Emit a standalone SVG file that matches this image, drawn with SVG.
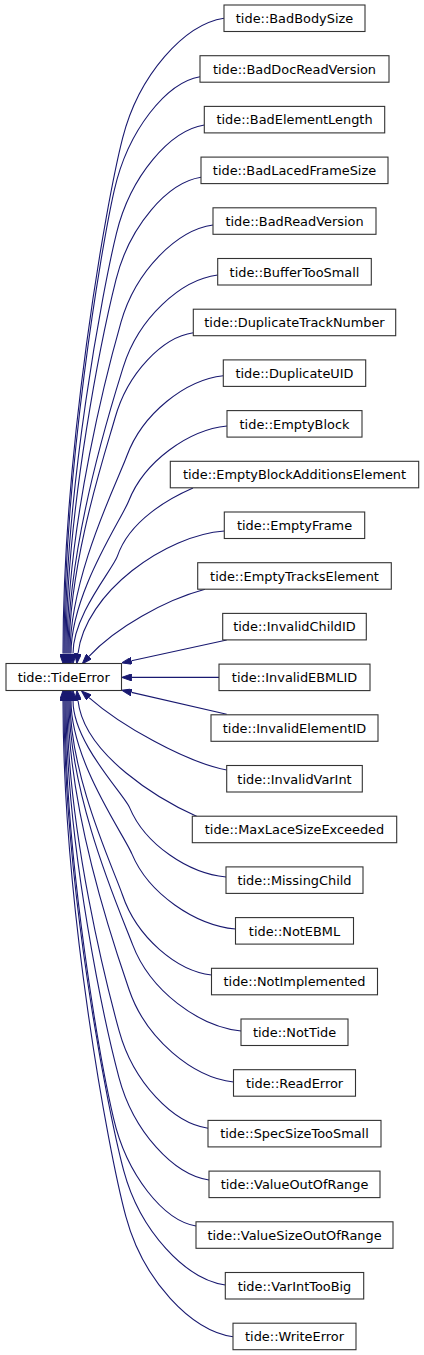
<svg xmlns="http://www.w3.org/2000/svg" width="424" height="1355" viewBox="0 0 424 1355">
<style>
.n rect{fill:#fff;stroke:#333;stroke-width:1.1}
.n text{font-family:"DejaVu Sans",sans-serif;font-size:12.9px;fill:#000;text-anchor:middle}
#edges path{fill:none;stroke:#191970;stroke-width:1.1;marker-end:url(#ah)}
</style>
<defs>
<marker id="ah" viewBox="0 0 10 7" refX="0" refY="3.5" markerWidth="10" markerHeight="7" markerUnits="userSpaceOnUse" orient="auto">
<path d="M0,0 L10,3.5 L0,7 z" fill="#191970" stroke="#191970" stroke-width="1"/>
</marker>
</defs>
<rect width="424" height="1355" fill="#fff"/>
<g id="edges">
<path d="M224,18.3 C184.5,24.3 138.8,74.7 122.6,138.2 C105.9,203.6 63,449.5 63,653.5"/>
<path d="M200,76.7 C166.6,82.4 128,130 114.3,190.1 C100.9,249 64,470 64,653.5"/>
<path d="M204.3,125 C170.1,130.4 130.5,175.8 116.5,233.1 C103.4,286.5 65,487 65,653.5"/>
<path d="M201,177.3 C167.8,182.4 129.6,225.4 116,279.7 C104.1,327.2 66,505.5 66,653.5"/>
<path d="M213,225 C177.1,229.9 135.7,270.6 121,322.1 C109,364.2 67,522.3 67,653.5"/>
<path d="M217.7,275 C180.9,279.6 138.5,318.1 123.4,366.6 C112.1,403 68,539.9 68,653.5"/>
<path d="M193.3,332.7 C162.8,337 127.5,372.8 115,418 C106.7,447.9 69,560.2 69,653.5"/>
<path d="M223.3,375.7 C185.6,379.7 142.2,413.6 126.7,456.3 C117.6,481.3 70,575.4 70,653.5"/>
<path d="M227,426 C188.7,429.8 144.4,461.2 128.7,501 C121,520.4 71,593.1 71,653.5"/>
<path d="M193,488 C170,498 129.5,520.1 117.4,556.2 C113.3,568.6 73,615 73,653.5"/>
<path d="M224.3,531 C165.8,535 85.3,592.3 78,653.5"/>
<path d="M205,589.3 C165,600 115,628 89,656.4"/>
<path d="M226.7,640 L131.5,660.8"/>
<path d="M219,677.4 L131.7,677.4"/>
<path d="M226.7,714.3 L131.5,692.4"/>
<path d="M226.7,770 C185,762 120,725 89,697.6"/>
<path d="M197,816.5 C160,800 84,755 78,700.5"/>
<path d="M226,877 C188.4,873.5 145,844.4 129.6,807.6 C123.9,794 73,742.9 73,700.5"/>
<path d="M235.5,929 C195.1,925.2 148.5,893.7 131.9,853.9 C123.8,834.4 71,761.2 71,700.5"/>
<path d="M211.5,975 C176.8,971 136.7,937.3 122.4,894.8 C114.1,870.1 70,777.4 70,700.5"/>
<path d="M241,1031 C198.7,1026.7 149.9,990.4 132.6,944.6 C120.9,913.6 69,797.2 69,700.5"/>
<path d="M233.5,1082 C192.8,1077.4 145.9,1038.8 129.2,990 C116.6,953.2 68,815.1 68,700.5"/>
<path d="M208,1128.3 C173.4,1123.4 133.4,1082.7 119.2,1031.2 C107.6,989.2 67,831.5 67,700.5"/>
<path d="M209,1180 C173.9,1174.9 133.3,1131.7 118.9,1077.3 C106.2,1029.4 66,849.7 66,700.5"/>
<path d="M196,1226 C163.8,1220.6 126.7,1175.3 113.5,1118.2 C101.2,1065.2 65,865.9 65,700.5"/>
<path d="M225.3,1285 C185.7,1279.3 140,1231.3 123.7,1170.7 C107.7,1111 64,886.7 64,700.5"/>
<path d="M233,1336.7 C191.2,1330.7 143,1280.3 125.9,1216.7 C108.2,1151.1 63,904.9 63,700.5"/>
</g>
<g id="TideError" class="n"><rect x="6" y="663.5" width="115.5" height="27"/><text x="63.7" y="681.5">tide::TideError</text></g>
<g id="BadBodySize" class="n"><rect x="224" y="5" width="141" height="26.5"/><text x="294.5" y="23">tide::BadBodySize</text></g>
<g id="BadDocReadVersion" class="n"><rect x="200" y="55.7" width="189" height="26.5"/><text x="294.5" y="73.7">tide::BadDocReadVersion</text></g>
<g id="BadElementLength" class="n"><rect x="204.3" y="106.4" width="180.4" height="26.5"/><text x="294.5" y="124.4">tide::BadElementLength</text></g>
<g id="BadLacedFrameSize" class="n"><rect x="201" y="157.1" width="187" height="26.5"/><text x="294.5" y="175.1">tide::BadLacedFrameSize</text></g>
<g id="BadReadVersion" class="n"><rect x="213" y="207.8" width="163" height="26.5"/><text x="294.5" y="225.8">tide::BadReadVersion</text></g>
<g id="BufferTooSmall" class="n"><rect x="217.7" y="258.5" width="153.6" height="26.5"/><text x="294.5" y="276.5">tide::BufferTooSmall</text></g>
<g id="DuplicateTrackNumber" class="n"><rect x="193.3" y="309.2" width="202.4" height="26.5"/><text x="294.5" y="327.2">tide::DuplicateTrackNumber</text></g>
<g id="DuplicateUID" class="n"><rect x="223.3" y="359.9" width="142.4" height="26.5"/><text x="294.5" y="377.9">tide::DuplicateUID</text></g>
<g id="EmptyBlock" class="n"><rect x="227" y="410.6" width="135" height="26.5"/><text x="294.5" y="428.6">tide::EmptyBlock</text></g>
<g id="EmptyBlockAdditionsElement" class="n"><rect x="170.3" y="461.3" width="248.4" height="26.5"/><text x="294.5" y="479.3">tide::EmptyBlockAdditionsElement</text></g>
<g id="EmptyFrame" class="n"><rect x="224.3" y="512" width="140.4" height="26.5"/><text x="294.5" y="530">tide::EmptyFrame</text></g>
<g id="EmptyTracksElement" class="n"><rect x="197.7" y="562.7" width="193.6" height="26.5"/><text x="294.5" y="580.7">tide::EmptyTracksElement</text></g>
<g id="InvalidChildID" class="n"><rect x="222.7" y="613.4" width="143.6" height="26.5"/><text x="294.5" y="631.4">tide::InvalidChildID</text></g>
<g id="InvalidEBMLID" class="n"><rect x="219" y="664.1" width="151" height="26.5"/><text x="294.5" y="682.1">tide::InvalidEBMLID</text></g>
<g id="InvalidElementID" class="n"><rect x="211" y="714.8" width="167" height="26.5"/><text x="294.5" y="732.8">tide::InvalidElementID</text></g>
<g id="InvalidVarInt" class="n"><rect x="226.7" y="765.5" width="135.6" height="26.5"/><text x="294.5" y="783.5">tide::InvalidVarInt</text></g>
<g id="MaxLaceSizeExceeded" class="n"><rect x="192.3" y="816.2" width="204.4" height="26.5"/><text x="294.5" y="834.2">tide::MaxLaceSizeExceeded</text></g>
<g id="MissingChild" class="n"><rect x="226" y="866.9" width="137" height="26.5"/><text x="294.5" y="884.9">tide::MissingChild</text></g>
<g id="NotEBML" class="n"><rect x="235.5" y="917.6" width="118" height="26.5"/><text x="294.5" y="935.6">tide::NotEBML</text></g>
<g id="NotImplemented" class="n"><rect x="211.5" y="968.3" width="166" height="26.5"/><text x="294.5" y="986.3">tide::NotImplemented</text></g>
<g id="NotTide" class="n"><rect x="241" y="1019" width="107" height="26.5"/><text x="294.5" y="1037">tide::NotTide</text></g>
<g id="ReadError" class="n"><rect x="233.5" y="1069.7" width="122" height="26.5"/><text x="294.5" y="1087.7">tide::ReadError</text></g>
<g id="SpecSizeTooSmall" class="n"><rect x="208" y="1120.4" width="173" height="26.5"/><text x="294.5" y="1138.4">tide::SpecSizeTooSmall</text></g>
<g id="ValueOutOfRange" class="n"><rect x="209" y="1171.1" width="171" height="26.5"/><text x="294.5" y="1189.1">tide::ValueOutOfRange</text></g>
<g id="ValueSizeOutOfRange" class="n"><rect x="196" y="1221.8" width="197" height="26.5"/><text x="294.5" y="1239.8">tide::ValueSizeOutOfRange</text></g>
<g id="VarIntTooBig" class="n"><rect x="225.3" y="1272.5" width="138.4" height="26.5"/><text x="294.5" y="1290.5">tide::VarIntTooBig</text></g>
<g id="WriteError" class="n"><rect x="233" y="1323.2" width="123" height="26.5"/><text x="294.5" y="1341.2">tide::WriteError</text></g>
</svg>
